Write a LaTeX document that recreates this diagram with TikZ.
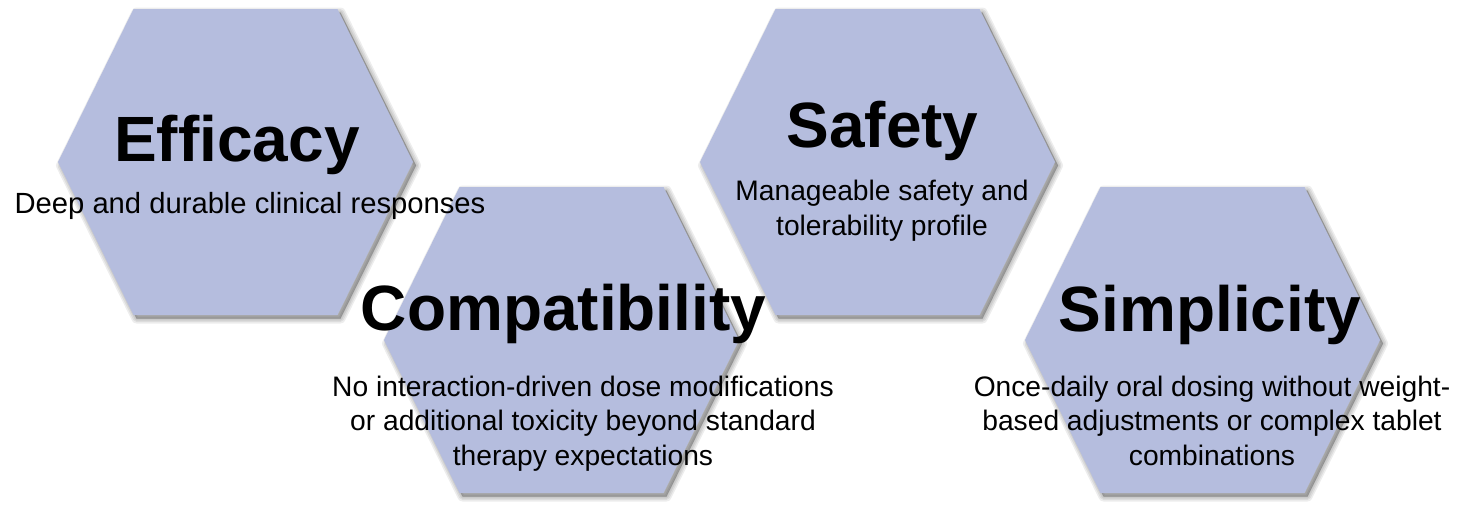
\documentclass[tikz,border=0pt]{standalone}
\usepackage{fontspec}
\setmainfont{Liberation Sans}
\definecolor{hexfill}{RGB}{181,189,222}
\newcommand\hexshape[2]{(#1-177.5,#2) -- (#1-102,#2-153) -- (#1+102,#2-153) -- (#1+177.5,#2) -- (#1+102,#2+153) -- (#1-102,#2+153) -- cycle}
\newcommand\hexdraw[2]{%
  \foreach \w in {10,7,4,1}{\draw[hexshadow,line width=\w pt,shift={(3,3.5)}] \hexshape{#1}{#2};}
  \fill[hexbody] \hexshape{#1}{#2};}
\begin{document}
\begin{tikzpicture}[x=1pt,y=-1pt,
  hexshadow/.style={fill=black,draw=black,fill opacity=0.07,draw opacity=0.07,line join=round},
  hexbody/.style={fill=hexfill},
  titletext/.style={font=\fontsize{64}{77}\selectfont\bfseries,anchor=base,inner sep=0pt},
  subtext/.style={font=\fontsize{28.2}{34.2}\selectfont,anchor=base,align=center,inner sep=0pt}]
\useasboundingbox (0,0) rectangle (1473,504);
% hexagons
\hexdraw{235.5}{162}
\hexdraw{561.5}{340}
\hexdraw{877.5}{162}
\hexdraw{1202.5}{340}
% texts (multi-line nodes: base = baseline of last line)
\node[titletext] (efft) at (237,161) {Efficacy};
\node[subtext,font=\fontsize{29.2}{34.2}\selectfont] (effs) at (250,213) {Deep and durable clinical responses};
\node[titletext] (comt) at (563.5,330) {Compatibility};
\node[subtext] (coms) at (583,465) {No interaction-driven dose modifications\\or additional toxicity beyond standard\\therapy expectations};
\node[titletext] (saft) at (882.5,147) {Safety};
\node[subtext] (safs) at (882,235) {Manageable safety and\\tolerability profile};
\node[titletext] (simt) at (1210,331) {Simplicity};
\node[subtext] (sims) at (1212,465) {Once-daily oral dosing without weight-\\based adjustments or complex tablet\\combinations};
\end{tikzpicture}
\end{document}
